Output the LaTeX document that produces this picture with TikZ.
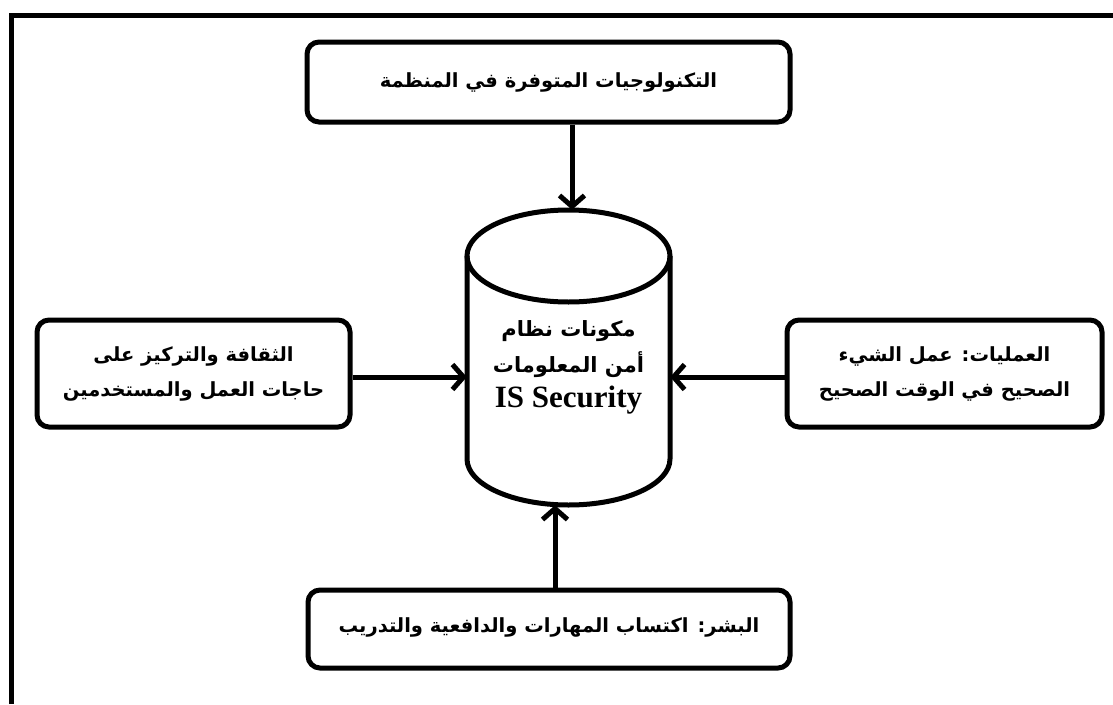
\documentclass[tikz,border=0pt]{standalone}
\usepackage{fontspec}
\setmainfont{Liberation Serif}
\newfontfamily\arabicfont[Script=Arabic]{DejaVu Sans}
\TeXXeTstate=1
\usetikzlibrary{arrows.meta}
\newcommand{\artxt}[1]{\beginR #1\endR}
\tikzset{
  box/.style={draw, line width=5pt, rounded corners=12pt, inner sep=0pt, align=center,
    font=\arabicfont\bfseries\fontsize{19.5}{35}\selectfont},
  arr/.style={line width=5pt, -{Straight Barb[length=11pt,width=25pt]}},
  cylline/.style={line width=5pt},
}
\begin{document}
\begin{tikzpicture}[x=1pt,y=-1pt]
\useasboundingbox (0,0) rectangle (1113,704);
% frame
\draw[line width=5pt] (11.5,704) -- (11.5,15.5) -- (1113,15.5);
% cylinder
\node[inner sep=0pt, minimum width=203pt, minimum height=295pt] (cyl) at (568.5,357.5) {};
\draw[cylline] (467,256) -- (467,459) arc[start angle=180, end angle=360, x radius=101.5pt, y radius=46pt] -- (670,256);
\draw[cylline] (568.5,256) ellipse [x radius=101.5pt, y radius=46pt];
\node[align=center, inner sep=0pt, font=\arabicfont\bfseries\fontsize{21}{36}\selectfont] (cyltxt) at (568.5,367)
  {\artxt{مكونات نظام}\\ \artxt{أمن المعلومات}\\[-1pt]
   \normalfont\bfseries\fontsize{31}{34}\selectfont IS Security};
% boxes
\node[box, minimum width=483pt, minimum height=80pt] (tech) at (548.5,82)
  {\raisebox{4pt}{\artxt{التكنولوجيات المتوفرة في المنظمة}}};
\node[box, minimum width=313pt, minimum height=107pt] (cult) at (193.5,373.5)
  {\artxt{الثقافة والتركيز على}\\ \artxt{حاجات العمل والمستخدمين}};
\node[box, minimum width=315pt, minimum height=107pt] (proc) at (944.5,373.5)
  {\artxt{العمليات: عمل الشيء}\\ \artxt{الصحيح في الوقت الصحيح}};
\node[box, minimum width=482pt, minimum height=78pt] (people) at (549,629)
  {\raisebox{7pt}{\artxt{البشر: اكتساب المهارات والدافعية والتدريب}}};
% connectors
\draw[arr] (tech.south -| 572,0) -- ([xshift=3.5pt]cyl.north);
\draw[arr] (cult.east |- 0,377) -- (cyl.west |- 0,377);
\draw[arr] (proc.west |- 0,377) -- (cyl.east |- 0,377);
\draw[arr] (people.north -| 555,0) -- ([xshift=-13.5pt]cyl.south);
\end{tikzpicture}
\end{document}
